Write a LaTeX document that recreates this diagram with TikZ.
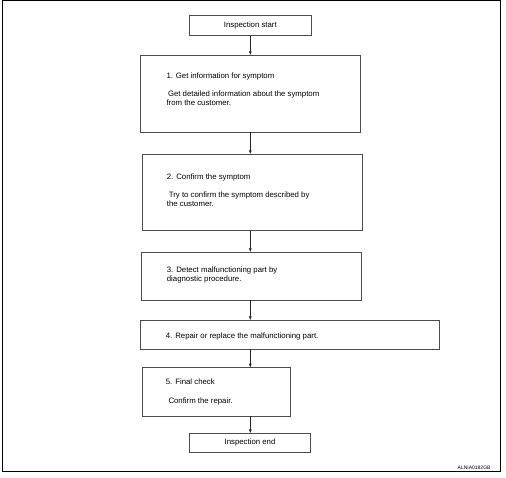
\documentclass[tikz,border=0pt]{standalone}
\usepackage{fontspec}
\setmainfont{Liberation Sans}
\usetikzlibrary{arrows.meta}
\begin{document}
\begin{tikzpicture}[x=1pt,y=-1pt,
  box/.style={draw=black!70,line width=0.8pt,inner sep=0pt,outer sep=0pt,
    font=\fontsize{7.8}{9}\selectfont},
  txt/.style={anchor=base west,inner sep=0pt,align=left,
    font=\fontsize{7.8}{9}\selectfont},
  arr/.style={draw=black!85,line width=0.7pt,-{Latex[length=4pt,width=3pt]}}]
\useasboundingbox (0,0) rectangle (506,478);
\draw[line width=1pt] (2.7,0.5) rectangle (500.7,471.7);
% boxes
\node[box,minimum width=122pt,minimum height=20.4pt] (start) at (250.3,25.5) {Inspection start};
\node[box,minimum width=219.6pt,minimum height=76.7pt] (b1) at (250.5,93.65) {};
\node[box,minimum width=220pt,minimum height=76.4pt] (b2) at (252.3,192.5) {};
\node[box,minimum width=219.7pt,minimum height=48pt] (b3) at (251.15,276.3) {};
\node[box,minimum width=298.6pt,minimum height=28.7pt] (b4) at (290,334.65) {};
\node[box,minimum width=148.4pt,minimum height=48.3pt] (b5) at (216.5,391.85) {};
\node[box,minimum width=121.4pt,minimum height=18.7pt] (end) at (250,442.65) {Inspection end};
% texts (multi-line nodes anchored at the baseline of their last line)
\node[txt] (t1a) at (166.3,78.5) {1. Get information for symptom};
\node[txt] (t1b) at (166.3,106) {\hspace{1.5pt}Get detailed information about the symptom\\from the customer.};
\node[txt] (t2a) at (166.7,179.3) {2. Confirm the symptom};
\node[txt] (t2b) at (166.7,207) {\hspace{2pt}Try to confirm the symptom described by\\the customer.};
\node[txt] (t3) at (166.7,282) {3. Detect malfunctioning part by\\diagnostic procedure.};
\node[txt] (t4) at (165.7,338) {4. Repair or replace the malfunctioning part.};
\node[txt] (t5a) at (165.7,384.7) {5. Final check};
\node[txt] (t5b) at (168.3,403.7) {Confirm the repair.};
\node[anchor=base east,inner sep=0pt,font=\fontsize{5}{6}\selectfont] (lbl) at (490.7,469.5) {ALNIA0182GB};
% arrows
\draw[arr] (start.south -| start.south) -- (b1.north -| start.south);
\draw[arr] (b1.south -| start.south) -- (b2.north -| start.south);
\draw[arr] (b2.south -| start.south) -- (b3.north -| start.south);
\draw[arr] (b3.south -| start.south) -- (b4.north -| start.south);
\draw[arr] (b4.south -| start.south) -- (b5.north -| start.south);
\draw[arr] (b5.south -| start.south) -- (end.north -| start.south);
\end{tikzpicture}
\end{document}
